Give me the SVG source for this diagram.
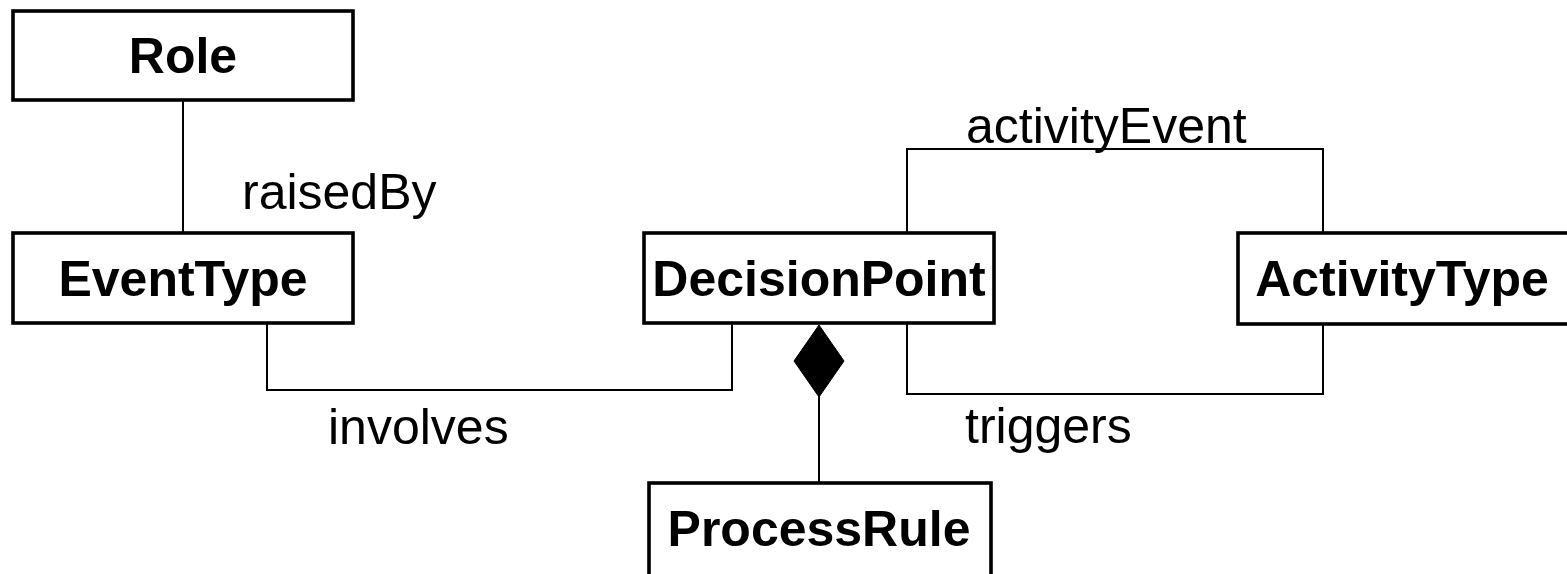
<svg xmlns="http://www.w3.org/2000/svg" width="1567" height="574" viewBox="0 0 1567 574">
  <style>
    .box { fill: #ffffff; stroke: #000000; stroke-width: 3.6; }
    .name { font-family: "Liberation Sans", Arial, sans-serif; font-weight: bold; font-size: 50px; fill: #000000; text-anchor: middle; }
    .wire { fill: none; stroke: #000000; stroke-width: 2; }
    .label { font-family: "Liberation Sans", Arial, sans-serif; font-size: 50px; fill: #000000; }
  </style>
  <rect width="1567" height="574" fill="#ffffff"/>

  <!-- associations between classes -->
  <g id="connectors">
    <path class="wire" d="M183 100 V233"/>
    <path class="wire" d="M267 323 V390 H732 V323"/>
    <path class="wire" d="M907 323 V394 H1323 V324"/>
    <path class="wire" d="M907 233 V149 H1323 V233"/>
    <path class="wire" d="M819 396 V483"/>
    <!-- composition diamond on the DecisionPoint end -->
    <path d="M819 325 L844 361 L819 397 L794 361 Z" fill="#000000" stroke="#000000" stroke-width="1"/>
    <text class="label" x="242" y="209">raisedBy</text>
    <text class="label" x="328" y="444">involves</text>
    <text class="label" x="965" y="443">triggers</text>
    <text class="label" x="966" y="143">activityEvent</text>
  </g>

  <g id="role">
    <rect class="box" x="13" y="11" width="340" height="89"/>
    <text class="name" x="183" y="73">Role</text>
  </g>
  <g id="eventtype">
    <rect class="box" x="13" y="233" width="340" height="90"/>
    <text class="name" x="183" y="296">EventType</text>
  </g>
  <g id="decisionpoint">
    <rect class="box" x="644" y="233" width="350" height="90"/>
    <text class="name" x="819" y="296">DecisionPoint</text>
  </g>
  <g id="activitytype">
    <rect class="box" x="1238" y="233" width="340" height="91"/>
    <text class="name" x="1402" y="296">ActivityType</text>
  </g>
  <g id="processrule">
    <rect class="box" x="649" y="483" width="342" height="100"/>
    <text class="name" x="819" y="546">ProcessRule</text>
  </g>
</svg>
